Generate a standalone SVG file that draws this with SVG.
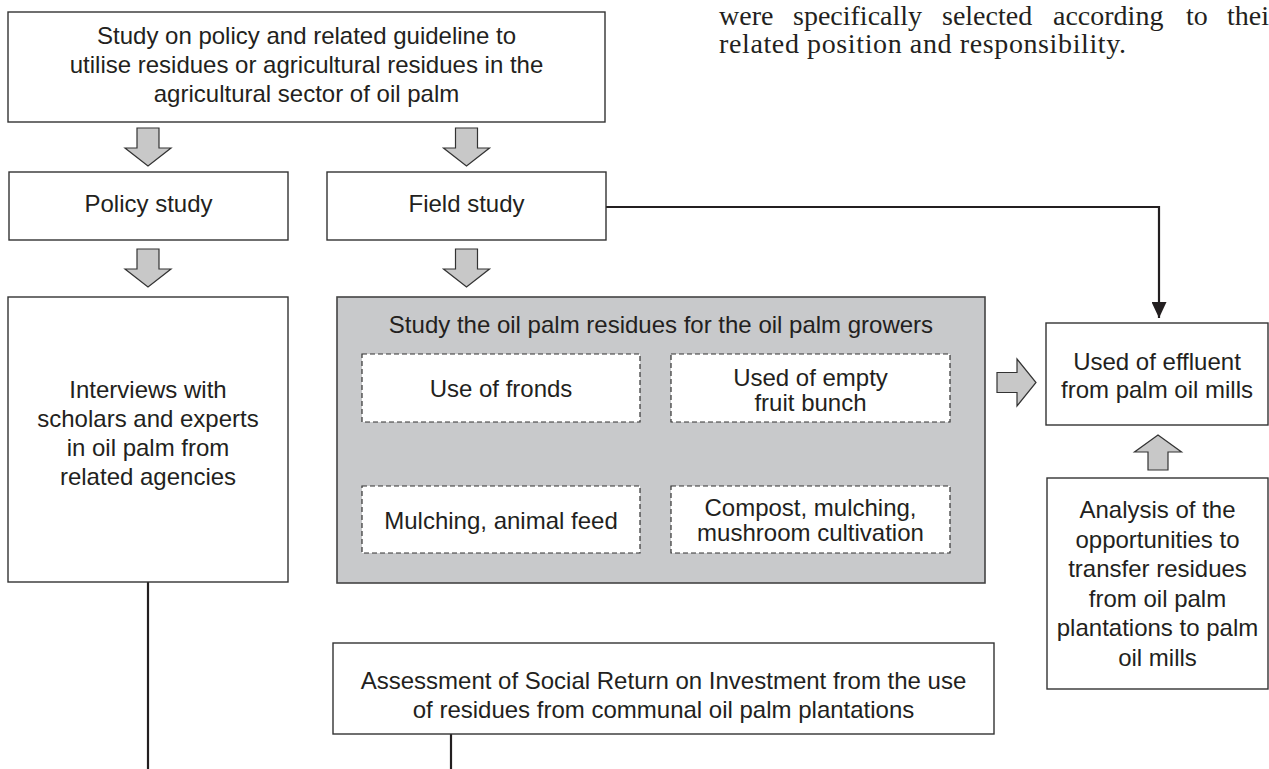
<svg xmlns="http://www.w3.org/2000/svg" width="1269" height="769" viewBox="0 0 1269 769">
<style>
.t{font-family:"Liberation Sans",Arial,sans-serif;font-size:24px;fill:#231f20;text-anchor:middle}
.s{font-family:"Liberation Serif","Times New Roman",serif;font-size:28px;fill:#231f20}
.box{fill:#fff;stroke:#333;stroke-width:1.4}
.gbox{fill:#c8c9cb;stroke:#444;stroke-width:1.6}
.dbox{fill:#fff;stroke:#333;stroke-width:1.2;stroke-dasharray:5 3}
.garrow{fill:#c8c8c8;stroke:#333;stroke-width:1.2;stroke-linejoin:miter}
.conn{fill:none;stroke:#231f20;stroke-width:2.2}
</style>
<defs>
<marker id="ah" viewBox="0 0 16 15" refX="16" refY="7.5" markerWidth="16" markerHeight="15" orient="auto" markerUnits="userSpaceOnUse">
<path d="M0,0 L16,7.5 L0,15 Z" fill="#231f20"/>
</marker>
</defs>
<rect width="1269" height="769" fill="#fff"/>

<g id="page-text">
<text class="s" y="25"><tspan x="719">were</tspan><tspan x="793">specifically</tspan><tspan x="942">selected</tspan><tspan x="1053">according</tspan><tspan x="1186">to</tspan><tspan x="1227">thei</tspan></text>
<text class="s" x="719" y="53" textLength="407" lengthAdjust="spacing">related position and responsibility.</text>
</g>

<g id="connectors">
<path class="conn" d="M606,207 H1159 V318" marker-end="url(#ah)"/>
<path class="conn" d="M148,582 V769"/>
<path class="conn" d="M451,734 V769"/>
<path class="conn" d="M500.5,423 V478" marker-end="url(#ah)"/>
<path class="conn" d="M810,423 V478" marker-end="url(#ah)"/>
<path class="garrow" d="M137,128 H159 V148 H171 L148,166 L125,148 H137 Z"/>
<path class="garrow" d="M455.5,128 H477.5 V148 H489.5 L466.5,166 L443.5,148 H455.5 Z"/>
<path class="garrow" d="M137,249 H159 V269 H171 L148,287 L125,269 H137 Z"/>
<path class="garrow" d="M455.5,249 H477.5 V269 H489.5 L466.5,287 L443.5,269 H455.5 Z"/>
<path class="garrow" d="M997,372.5 H1017 V359 L1036,382.5 L1017,406 V392.5 H997 Z"/>
<path class="garrow" d="M1158,435 L1181.5,452 H1168 V470 H1148 V452 H1134.5 Z"/>
</g>

<g id="node-top">
<rect class="box" x="8" y="12" width="597" height="110"/>
<text class="t" x="306.5" y="44">Study on policy and related guideline to</text>
<text class="t" x="306.5" y="73">utilise residues or agricultural residues in the</text>
<text class="t" x="306.5" y="102">agricultural sector of oil palm</text>
</g>

<g id="node-policy">
<rect class="box" x="9" y="172" width="279" height="68"/>
<text class="t" x="148.5" y="212">Policy study</text>
</g>

<g id="node-field">
<rect class="box" x="327" y="172" width="279" height="68"/>
<text class="t" x="466.5" y="212">Field study</text>
</g>

<g id="node-interviews">
<rect class="box" x="8" y="297" width="280" height="285"/>
<text class="t" x="148" y="398">Interviews with</text>
<text class="t" x="148" y="427">scholars and experts</text>
<text class="t" x="148" y="456">in oil palm from</text>
<text class="t" x="148" y="485">related agencies</text>
</g>

<g id="node-residues">
<rect class="gbox" x="337" y="297" width="648" height="286"/>
<text class="t" x="661" y="333">Study the oil palm residues for the oil palm growers</text>
</g>

<g id="node-fronds">
<rect class="dbox" x="362" y="354" width="278" height="68"/>
<text class="t" x="501" y="397">Use of fronds</text>
</g>

<g id="node-efb">
<rect class="dbox" x="671" y="354" width="279" height="68"/>
<text class="t" x="810.5" y="386">Used of empty</text>
<text class="t" x="810.5" y="411">fruit bunch</text>
</g>

<g id="node-mulching">
<rect class="dbox" x="362" y="486" width="278" height="67"/>
<text class="t" x="501" y="529">Mulching, animal feed</text>
</g>

<g id="node-compost">
<rect class="dbox" x="671" y="486" width="279" height="67"/>
<text class="t" x="810.5" y="516">Compost, mulching,</text>
<text class="t" x="810.5" y="541">mushroom cultivation</text>
</g>

<g id="node-effluent">
<rect class="box" x="1046" y="323" width="222" height="102"/>
<text class="t" x="1157" y="370">Used of effluent</text>
<text class="t" x="1157" y="398">from palm oil mills</text>
</g>

<g id="node-analysis">
<rect class="box" x="1047" y="478" width="221" height="211"/>
<text class="t" x="1157.5" y="518">Analysis of the</text>
<text class="t" x="1157.5" y="547.5">opportunities to</text>
<text class="t" x="1157.5" y="577">transfer residues</text>
<text class="t" x="1157.5" y="606.5">from oil palm</text>
<text class="t" x="1157.5" y="636">plantations to palm</text>
<text class="t" x="1157.5" y="665.5">oil mills</text>
</g>

<g id="node-sroi">
<rect class="box" x="333" y="643" width="661" height="91"/>
<text class="t" x="663.5" y="689">Assessment of Social Return on Investment from the use</text>
<text class="t" x="663.5" y="718">of residues from communal oil palm plantations</text>
</g>
</svg>
